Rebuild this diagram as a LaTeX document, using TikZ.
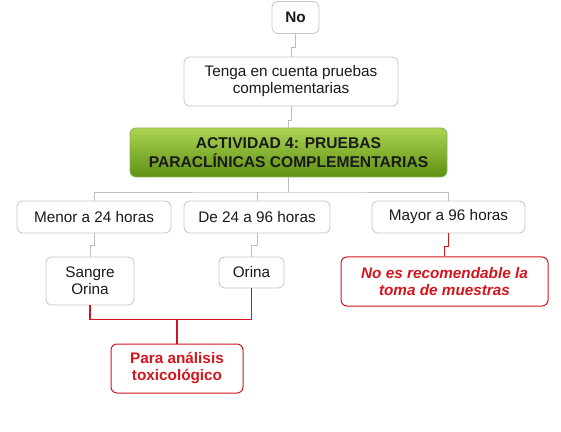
\documentclass[tikz,border=0pt]{standalone}
\usepackage{fontspec}
\setmainfont{Liberation Sans}
\usepackage{tikz}
\usetikzlibrary{
  arrows.meta,
  shapes,
  positioning,
  calc
}
\definecolor{mpGray}{HTML}{C6C6C6}
\definecolor{mpLine}{HTML}{BDBDBD}
\definecolor{mpRed}{HTML}{D3161E}
\definecolor{mpGreenTop}{HTML}{ACD453}
\definecolor{mpGreenBot}{HTML}{5E9012}
\definecolor{mpText}{HTML}{1A1A1A}
\tikzset{
  mpnode/.style={
    draw=mpGray, rounded corners=6pt, fill=white, align=center,
    inner sep=2pt, font=\fontsize{15.3}{17}\selectfont, text=mpText,
    line width=0.8pt
  },
  title/.style={
    mpnode, draw=mpGreenBot!70!white, top color=mpGreenTop, bottom color=mpGreenBot,
    font=\fontsize{15.6}{19}\selectfont\bfseries, text=mpText
  },
  note/.style={mpnode, draw=mpRed, text=mpRed, line width=1pt},
  link/.style={draw=mpLine, line width=0.8pt},
  redlink/.style={draw=mpRed, line width=1.8pt}
}
\begin{document}
\begin{tikzpicture}[x=1pt, y=1pt]
  \useasboundingbox (0,0) rectangle (561,431);
  % nodes
  \node[mpnode, font=\fontsize{15.3}{17}\selectfont\bfseries, minimum width=47pt, minimum height=32pt] (no) at (295.5,413.5) {No};
  \node[mpnode, minimum width=214pt, minimum height=49pt] (tenga) at (291,349.5) {Tenga en cuenta pruebas\\complementarias};
  \node[title, minimum width=317pt, minimum height=49pt] (act) at (288.5,278.5) {ACTIVIDAD 4: PRUEBAS\\PARACLÍNICAS COMPLEMENTARIAS};
  \node[mpnode, minimum width=154pt, minimum height=32pt] (menor) at (94,214) {Menor a 24 horas};
  \node[mpnode, minimum width=146pt, minimum height=32pt] (entre) at (257,214) {De 24 a 96 horas};
  \node[mpnode, minimum width=153pt, minimum height=32pt] (mayor) at (448.5,214) {Mayor a 96 horas};
  \node[mpnode, minimum width=88pt, minimum height=48pt] (sangre) at (90,150) {Sangre\\Orina};
  \node[mpnode, minimum width=65pt, minimum height=31pt] (orina) at (251.5,158.5) {Orina};
  \node[note, font=\fontsize{15.3}{17}\selectfont\bfseries\itshape, minimum width=207pt, minimum height=49pt] (noes) at (444.5,149.5) {No es recomendable la\\toma de muestras};
  \node[note, font=\fontsize{15.3}{17}\selectfont\bfseries, minimum width=132pt, minimum height=49pt] (para) at (177,62.5) {Para análisis\\toxicológico};

  % connectors
  \coordinate (bar) at (288.5,239);
  \coordinate (red) at (177,111.5);
  \draw[link] (no.south) -- ++(0,-14) -| (tenga.north);
  \draw[link] (tenga.south) -- ++(0,-14) -| (act.north);
  \draw[link] (act.south) -- (bar);
  \draw[link] (menor.north) |- (bar) -| (mayor.north);
  \draw[link] (entre.north) -- (entre.north |- bar);
  \draw[link] (menor.south) -- ++(0,-12) -| (sangre.north);
  \draw[link] (entre.south) -- ++(0,-12) -| (orina.north);
  \draw[redlink, line width=1.2pt] (mayor.south) -- ++(0,-13) -| (noes.north);
  \draw[redlink] (sangre.south) |- (red) -| (orina.south);
  \draw[redlink] (red) -- (para.north);
\end{tikzpicture}
\end{document}
